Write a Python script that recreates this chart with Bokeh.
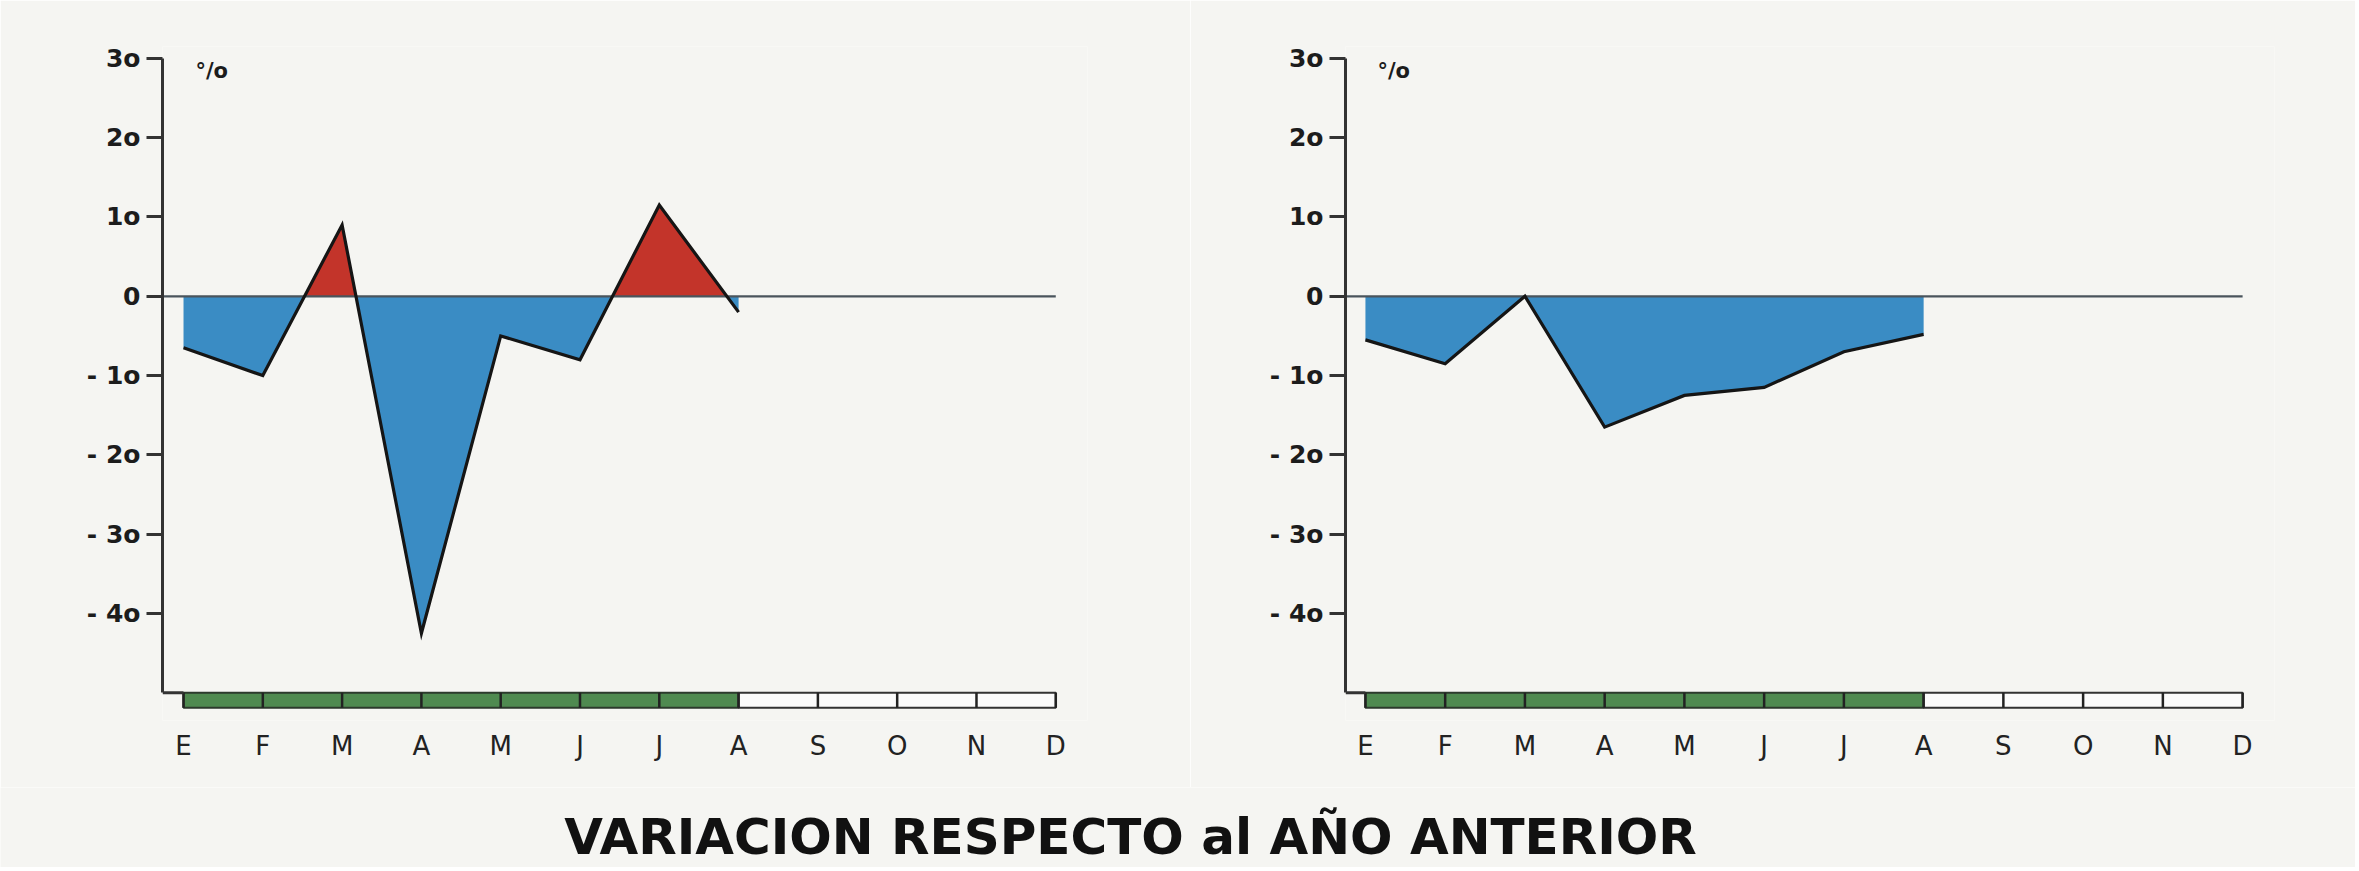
from bokeh.plotting import figure
from bokeh.models import Range1d, FixedTicker, Label
from bokeh.layouts import column, row
from bokeh.embed import file_html
from bokeh.resources import INLINE

# ---------------- data ----------------
MONTHS = ["E", "F", "M", "A", "M", "J", "J", "A", "S", "O", "N", "D"]
Y_TICKS = [30, 20, 10, 0, -10, -20, -30, -40]
Y_LABELS = ["3o", "2o", "1o", "0", "- 1o", "- 2o", "- 3o", "- 4o"]
LEFT_VALUES = [-6.5, -10, 9, -42.5, -5, -8, 11.5, -2]
RIGHT_VALUES = [-5.5, -8.5, 0, -16.5, -12.5, -11.5, -7, -4.8]
COVERED_MONTHS = 8
UNIT = "°/o"
TITLE = "VARIACION RESPECTO al AÑO ANTERIOR"

# ---------------- style ----------------
BG = "#f5f5f2"
BLUE = "#3a8cc4"
RED = "#c3342a"
GREEN = "#4f8a50"
INK = "#1c1c1c"
Y_MIN, Y_MAX = -53.5, 31.5
AXIS_LO, AXIS_HI = -50, 30
BAR_H = 1.9


def with_crossings(xs, ys):
    px, py = [xs[0]], [ys[0]]
    for i in range(1, len(xs)):
        y0, y1 = ys[i - 1], ys[i]
        if y0 * y1 < 0:
            t = y0 / (y0 - y1)
            px.append(xs[i - 1] + t * (xs[i] - xs[i - 1]))
            py.append(0.0)
        px.append(xs[i])
        py.append(y1)
    return px, py


def make_panel(values, width, border_left, border_right, x_start, x_end):
    p = figure(width=width, height=787,
               x_range=Range1d(x_start, x_end), y_range=Range1d(Y_MIN, Y_MAX),
               output_backend="svg", toolbar_location=None,
               min_border_left=border_left, min_border_right=border_right,
               min_border_top=46, min_border_bottom=67,
               background_fill_color=BG, border_fill_color=BG,
               outline_line_color=None)
    p.grid.visible = False

    ya = p.yaxis[0]
    ya.ticker = FixedTicker(ticks=Y_TICKS)
    ya.major_label_overrides = {t: l for t, l in zip(Y_TICKS, Y_LABELS)}
    ya.bounds = (AXIS_LO, AXIS_HI)
    ya.axis_line_width = 3
    ya.axis_line_color = "#333333"
    ya.major_tick_out = 16
    ya.major_tick_in = 0
    ya.major_tick_line_width = 3
    ya.major_tick_line_color = "#333333"
    ya.minor_tick_line_color = None
    ya.major_label_standoff = 6
    ya.major_label_text_font = "DejaVu Sans"
    ya.major_label_text_font_style = "bold"
    ya.major_label_text_font_size = "25px"
    ya.major_label_text_color = INK

    xa = p.xaxis[0]
    month_idx = list(range(len(MONTHS)))
    xa.ticker = FixedTicker(ticks=month_idx)
    xa.major_label_overrides = {i: m for i, m in zip(month_idx, MONTHS)}
    xa.axis_line_color = None
    xa.major_tick_line_color = None
    xa.minor_tick_line_color = None
    xa.major_label_standoff = 4
    xa.major_label_text_font = "DejaVu Sans"
    xa.major_label_text_font_size = "26px"
    xa.major_label_text_color = "#222222"

    xs = list(range(len(values)))
    px, py = with_crossings(xs, values)
    neg = [min(v, 0.0) for v in py]
    pos = [max(v, 0.0) for v in py]
    p.varea(x=px, y1=[0.0] * len(px), y2=neg, fill_color=BLUE)
    p.varea(x=px, y1=[0.0] * len(px), y2=pos, fill_color=RED)

    last = len(MONTHS) - 1
    p.line(x=[x_start, last], y=[0, 0], line_color="#4a545c", line_width=2.2)
    p.line(x=xs, y=values, line_color="#151515", line_width=3.2, line_join="miter")

    # month strip below the axis
    cov = COVERED_MONTHS - 1
    p.quad(left=[0], right=[cov], top=[AXIS_LO], bottom=[AXIS_LO - BAR_H],
           fill_color=GREEN, line_color="#2c3a2c", line_width=2)
    p.quad(left=[cov], right=[last], top=[AXIS_LO], bottom=[AXIS_LO - BAR_H],
           fill_color="#fbfbfb", line_color="#333333", line_width=2)
    p.segment(x0=month_idx, y0=[AXIS_LO - BAR_H] * len(month_idx),
              x1=month_idx, y1=[AXIS_LO] * len(month_idx),
              line_color="#222222", line_width=2.5)
    p.segment(x0=[x_start], y0=[AXIS_LO], x1=[0], y1=[AXIS_LO],
              line_color="#333333", line_width=3)

    p.add_layout(Label(x=0.15, y=AXIS_HI - 1.6, text=UNIT, text_align="left",
                       text_baseline="middle", text_font="DejaVu Sans",
                       text_font_style="bold", text_font_size="21px",
                       text_color=INK))
    return p


p1 = make_panel(LEFT_VALUES, 1190, 162, 103, -0.265, 11.4)
p2 = make_panel(RIGHT_VALUES, 1165, 155, 81, -0.25, 11.4)

tp = figure(width=2355, height=80, x_range=Range1d(0, 2355), y_range=Range1d(0, 80),
            output_backend="svg", toolbar_location=None,
            min_border=0, background_fill_color=BG, border_fill_color=BG,
            outline_line_color=None)
tp.axis.visible = False
tp.grid.visible = False
tp.add_layout(Label(x=1130, y=30.5, text=TITLE, text_align="center",
                    text_baseline="middle", text_font="DejaVu Sans",
                    text_font_style="bold", text_font_size="50px",
                    text_color="#111111"))

layout = column(row(p1, p2), tp)
open("out.html", "w").write(file_html(layout, INLINE))
